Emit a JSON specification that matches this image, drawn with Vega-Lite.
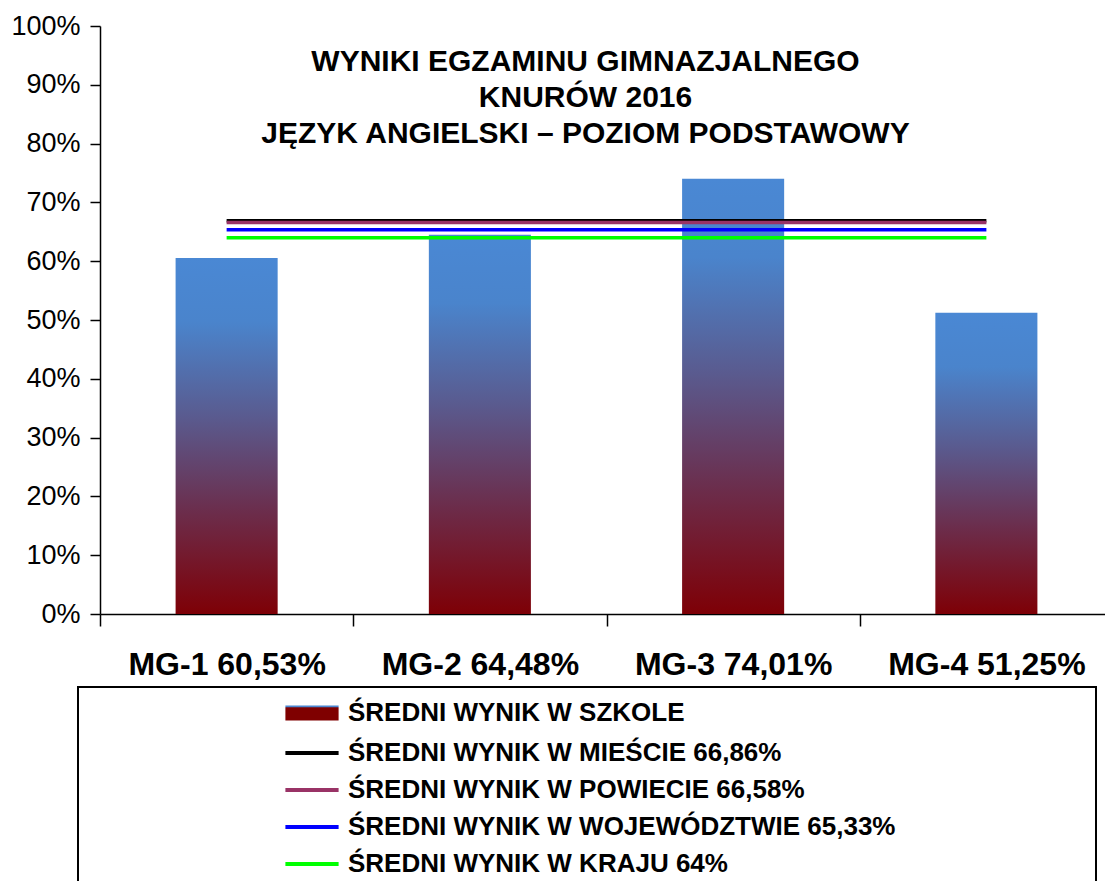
{
  "$schema": "https://vega.github.io/schema/vega-lite/v6.json",
  "width": 1013,
  "height": 588,
  "autosize": {"type": "none"},
  "padding": {"left": 100, "top": 26, "right": 0, "bottom": 267},
  "background": "white",
  "config": {
    "view": {"stroke": null},
    "font": "Liberation Sans"
  },
  "title": {
    "text": ["WYNIKI EGZAMINU GIMNAZJALNEGO", "KNURÓW 2016", "JĘZYK ANGIELSKI – POZIOM PODSTAWOWY"],
    "fontSize": 30,
    "fontWeight": "bold",
    "color": "black",
    "lineHeight": 36,
    "anchor": "middle",
    "frame": "group",
    "baseline": "top",
    "offset": 0,
    "dx": -21,
    "dy": 137
  },
  "layer": [
    {
      "data": {"values": [
        {"cat": "MG-1 60,53%", "value": 0.6053},
        {"cat": "MG-2 64,48%", "value": 0.6448},
        {"cat": "MG-3 74,01%", "value": 0.7401},
        {"cat": "MG-4 51,25%", "value": 0.5125}
      ]},
      "mark": {
        "type": "bar",
        "width": {"band": 0.403},
        "color": {
          "gradient": "linear", "x1": 0, "y1": 0, "x2": 0, "y2": 1,
          "stops": [
            {"offset": 0, "color": "#4a88d4"},
            {"offset": 0.18, "color": "#4a84cc"},
            {"offset": 0.45, "color": "#5a5a8e"},
            {"offset": 0.72, "color": "#6c2c4a"},
            {"offset": 1, "color": "#7e0006"}
          ]
        }
      },
      "encoding": {
        "x": {
          "field": "cat", "type": "nominal", "sort": null,
          "scale": {"domain": ["MG-1 60,53%", "MG-2 64,48%", "MG-3 74,01%", "MG-4 51,25%"], "paddingInner": 0, "paddingOuter": 0},
          "axis": {
            "title": null, "tickBand": "extent", "labelAngle": 0,
            "labelFontSize": 32, "labelFontWeight": "bold", "labelColor": "black",
            "labelPadding": 23, "labelLimit": 400,
            "tickSize": 12, "tickColor": "black", "tickWidth": 1.5,
            "domainColor": "black", "domainWidth": 1.5, "grid": false
          }
        },
        "y": {
          "field": "value", "type": "quantitative",
          "scale": {"domain": [0, 1], "nice": false},
          "axis": {
            "title": null, "format": ".0%",
            "values": [0, 0.1, 0.2, 0.3, 0.4, 0.5, 0.6, 0.7, 0.8, 0.9, 1],
            "labelFontSize": 27, "labelColor": "black", "labelPadding": 10,
            "tickSize": 10, "tickColor": "black", "tickWidth": 1.5,
            "domainColor": "black", "domainWidth": 1.5, "grid": false
          }
        }
      }
    },
    {
      "data": {"values": [
        {"series": "ŚREDNI WYNIK W MIEŚCIE 66,86%", "value": 0.6686, "start": "MG-1 60,53%", "end": "MG-4 51,25%"},
        {"series": "ŚREDNI WYNIK W POWIECIE 66,58%", "value": 0.6658, "start": "MG-1 60,53%", "end": "MG-4 51,25%"},
        {"series": "ŚREDNI WYNIK W WOJEWÓDZTWIE 65,33%", "value": 0.6533, "start": "MG-1 60,53%", "end": "MG-4 51,25%"},
        {"series": "ŚREDNI WYNIK W KRAJU 64%", "value": 0.64, "start": "MG-1 60,53%", "end": "MG-4 51,25%"}
      ]},
      "mark": {"type": "rule", "strokeWidth": 3.5},
      "encoding": {
        "x": {"field": "start", "type": "nominal"},
        "x2": {"field": "end"},
        "y": {"field": "value", "type": "quantitative"},
        "color": {
          "field": "series", "type": "nominal", "sort": null,
          "scale": {
            "domain": ["ŚREDNI WYNIK W SZKOLE", "ŚREDNI WYNIK W MIEŚCIE 66,86%", "ŚREDNI WYNIK W POWIECIE 66,58%", "ŚREDNI WYNIK W WOJEWÓDZTWIE 65,33%", "ŚREDNI WYNIK W KRAJU 64%"],
            "range": ["transparent", "#000000", "#993366", "#0000ff", "#00ff00"]
          },
          "legend": {
            "title": null,
            "orient": "none",
            "legendX": -22,
            "legendY": 661,
            "direction": "vertical",
            "padding": 10,
            "strokeColor": "black",
            "symbolSize": 784,
            "symbolStrokeWidth": 4,
            "symbolOffset": 208,
            "labelOffset": 20,
            "labelFontSize": 26,
            "labelFontWeight": "bold",
            "labelColor": "black",
            "labelLimit": 3000,
            "rowPadding": 8,
            "encode": {
              "legend": {"update": {"strokeWidth": {"value": 2}}},
              "symbols": {"update": {
                "shape": [{"test": "datum.value === 'ŚREDNI WYNIK W SZKOLE'", "value": "M-1.9,-0.53H1.9V0.53H-1.9ZM54.7,0"}, {"value": "M-1.9,0H1.9M54.7,0"}],
                "fill": [{"test": "datum.value === 'ŚREDNI WYNIK W SZKOLE'", "value": {"gradient": "linear", "x1": 0, "y1": 0, "x2": 0, "y2": 1, "stops": [{"offset": 0, "color": "#4a86d0"}, {"offset": 0.1, "color": "#4a86d0"}, {"offset": 0.14, "color": "#7f0000"}, {"offset": 1, "color": "#7f0000"}]}}, {"value": "transparent"}]
              }}
            }
          }
        }
      }
    }
  ]
}
